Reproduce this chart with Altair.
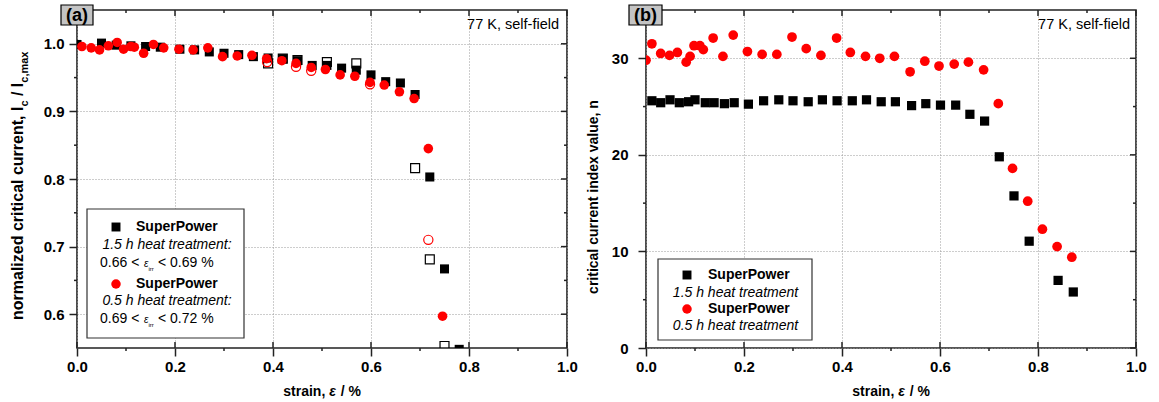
import altair as alt
import pandas as pd

FONT = "Liberation Sans"

# ---------------- Panel (a): normalized critical current ----------------
# 1.5 h heat treatment, loading (filled squares)
a_sq_strain = [0.0, 0.05, 0.08, 0.11, 0.14, 0.17, 0.21, 0.24, 0.27, 0.30, 0.33, 0.36, 0.39,
               0.42, 0.45, 0.48, 0.51, 0.54, 0.57, 0.60, 0.63, 0.66, 0.69, 0.72, 0.75, 0.78]
a_sq_ic = [0.999, 1.001, 0.998, 0.997, 0.996, 0.995, 0.992, 0.991, 0.988, 0.986, 0.984, 0.981, 0.979,
           0.978, 0.975, 0.968, 0.968, 0.964, 0.961, 0.954, 0.944, 0.942, 0.925, 0.803, 0.667, 0.548]
# 1.5 h heat treatment, open squares
a_sqo_strain = [0.39, 0.42, 0.45, 0.51, 0.57, 0.69, 0.72, 0.75]
a_sqo_ic = [0.971, 0.978, 0.976, 0.973, 0.971, 0.816, 0.681, 0.553]
# 0.5 h heat treatment, loading (filled circles)
a_ci_strain = [0.01, 0.029, 0.046, 0.064, 0.082, 0.095, 0.110, 0.117, 0.136, 0.156, 0.177, 0.208,
               0.237, 0.267, 0.297, 0.327, 0.357, 0.387, 0.418, 0.447, 0.478, 0.507, 0.537, 0.567,
               0.598, 0.627, 0.658, 0.688, 0.717, 0.746]
a_ci_ic = [0.996, 0.994, 0.991, 0.997, 1.002, 0.992, 0.996, 0.995, 0.986, 0.999, 0.994, 0.992,
           0.991, 0.994, 0.981, 0.982, 0.983, 0.978, 0.975, 0.971, 0.965, 0.962, 0.954, 0.952,
           0.943, 0.939, 0.929, 0.919, 0.845, 0.597]
# 0.5 h heat treatment, open circles
a_cio_strain = [0.388, 0.447, 0.478, 0.598, 0.717]
a_cio_ic = [0.973, 0.966, 0.960, 0.940, 0.710]

# ---------------- Panel (b): n-value ----------------
b_sq_strain = [0.012, 0.030, 0.049, 0.068, 0.087, 0.100, 0.121, 0.139, 0.160, 0.180, 0.209, 0.240,
               0.271, 0.300, 0.331, 0.360, 0.390, 0.421, 0.450, 0.480, 0.509, 0.542, 0.571, 0.601,
               0.632, 0.661, 0.691, 0.721, 0.751, 0.782, 0.841, 0.872]
b_sq_n = [25.6, 25.4, 25.7, 25.4, 25.5, 25.7, 25.4, 25.4, 25.3, 25.4, 25.25, 25.6,
          25.7, 25.6, 25.5, 25.7, 25.6, 25.6, 25.7, 25.5, 25.5, 25.1, 25.3, 25.15,
          25.15, 24.2, 23.5, 19.8, 15.75, 11.06, 7.0, 5.8]
b_ci_strain = [0.0, 0.012, 0.030, 0.048, 0.064, 0.082, 0.090, 0.098, 0.110, 0.117, 0.137, 0.157,
               0.178, 0.207, 0.237, 0.267, 0.298, 0.327, 0.357, 0.389, 0.417, 0.448, 0.477, 0.507,
               0.539, 0.569, 0.598, 0.629, 0.658, 0.689, 0.719, 0.748, 0.779, 0.809, 0.839, 0.869]
b_ci_n = [29.8, 31.5, 30.5, 30.3, 30.6, 29.6, 30.2, 31.3, 31.3, 30.9, 32.1, 30.2,
          32.4, 30.7, 30.4, 30.4, 32.2, 31.0, 30.3, 32.1, 30.6, 30.2, 30.0, 30.2,
          28.6, 29.7, 29.2, 29.4, 29.6, 28.8, 25.3, 18.6, 15.2, 12.3, 10.5, 9.4]

# ---------------- ticks ----------------
x_ticks = [0.0, 0.2, 0.4, 0.6, 0.8, 1.0]
x_minor = [0.1, 0.3, 0.5, 0.7, 0.9]
a_y_ticks = [0.6, 0.7, 0.8, 0.9, 1.0]
a_y_minor = [0.65, 0.75, 0.85, 0.95]
b_y_ticks = [0, 10, 20, 30]
b_y_minor = [5, 15, 25]

W, H = 490, 338
AX = "#222222"
ONE = pd.DataFrame({"o": [0]})


def axis(values, fmt, size, orient, pad=3):
    return alt.Axis(values=values, format=fmt, title=None, domain=False, grid=True,
                    gridColor="#9a9a9a", gridDash=[1, 2], gridWidth=1,
                    tickSize=8, tickColor=AX, tickWidth=1.5,
                    labelFont=FONT, labelFontWeight="bold", labelFontSize=size,
                    labelColor="black", labelPadding=pad, labelFlush=False, orient=orient)


def txt(text, x, y, size=14, weight="normal", style="normal", align="left",
        baseline="middle", angle=0):
    return alt.Chart(ONE).mark_text(
        text=text, font=FONT, fontSize=size, fontWeight=weight, fontStyle=style,
        align=align, baseline=baseline, angle=angle, color="black"
    ).encode(x=alt.value(x), y=alt.value(y))


def pts(xs_, ys_, xsc, ysc, xax, yax, shape, filled, color, size):
    df = pd.DataFrame({"x": xs_, "y": ys_})
    mk = alt.Chart(df).mark_point(shape=shape, filled=filled, color=color, size=size,
                                  opacity=1, strokeWidth=1.2, clip=True)
    return mk.encode(x=alt.X("x:Q", scale=xsc, axis=xax), y=alt.Y("y:Q", scale=ysc, axis=yax))


def tick_rules(xsc, ysc, xax, yax, xmaj, xmin, ymaj, ymin):
    layers = []
    r = dict(color=AX, strokeWidth=1.5)
    dx = pd.DataFrame({"x": xmaj})
    dxm = pd.DataFrame({"x": xmin})
    dy = pd.DataFrame({"y": ymaj})
    dym = pd.DataFrame({"y": ymin})
    X = lambda: alt.X("x:Q", scale=xsc, axis=xax)
    Y = lambda: alt.Y("y:Q", scale=ysc, axis=yax)
    # top (inward)
    layers.append(alt.Chart(dx).mark_rule(**r).encode(x=X(), y=alt.value(0), y2=alt.value(6)))
    layers.append(alt.Chart(dxm).mark_rule(**r).encode(x=X(), y=alt.value(0), y2=alt.value(3)))
    # bottom (inward major, outward minor)
    layers.append(alt.Chart(dx).mark_rule(**r).encode(x=X(), y=alt.value(H - 6), y2=alt.value(H)))
    layers.append(alt.Chart(dxm).mark_rule(**r).encode(x=X(), y=alt.value(H), y2=alt.value(H + 3)))
    # right (inward)
    layers.append(alt.Chart(dy).mark_rule(**r).encode(y=Y(), x=alt.value(W - 6), x2=alt.value(W)))
    layers.append(alt.Chart(dym).mark_rule(**r).encode(y=Y(), x=alt.value(W - 3), x2=alt.value(W)))
    # left (outward minor)
    layers.append(alt.Chart(dym).mark_rule(**r).encode(y=Y(), x=alt.value(-3), x2=alt.value(0)))
    return layers


def label_box(letter, x0, x1):
    box = alt.Chart(ONE).mark_rect(fill="#c4c4c4", stroke="black", strokeWidth=1.2).encode(
        x=alt.value(x0), x2=alt.value(x1), y=alt.value(-5), y2=alt.value(15))
    return [box, txt(letter, (x0 + x1) / 2, 5.5, size=18, weight="bold", align="center")]


def legend_box(x0, x1, y0, y1):
    return alt.Chart(ONE).mark_rect(fill="white", stroke="#333333", strokeWidth=1.2).encode(
        x=alt.value(x0), x2=alt.value(x1), y=alt.value(y0), y2=alt.value(y1))


def legend_sym(shape, color, x, y, size):
    return alt.Chart(ONE).mark_point(shape=shape, filled=True, color=color, size=size,
                                     opacity=1).encode(x=alt.value(x), y=alt.value(y))


def xtitle(cx, y):
    return [txt("strain,", cx + 3.3, y, size=14, weight="bold", align="right"),
            txt("ε", cx + 7.3, y, size=14, weight="bold", style="italic"),
            txt("/ %", cx + 18.8, y, size=14, weight="bold")]


# ---------------- build panel (a) ----------------
xs_a = alt.Scale(domain=[0, 1], nice=False, zero=False)
ys_a = alt.Scale(domain=[0.55, 1.05], nice=False, zero=False)
xax_a = axis(x_ticks, ".1f", 15, "bottom")
yax_a = axis(a_y_ticks, ".1f", 15, "left", pad=5)

layers_a = [
    pts(a_sqo_strain, a_sqo_ic, xs_a, ys_a, xax_a, yax_a, "square", False, "black", 80),
    pts(a_sq_strain, a_sq_ic, xs_a, ys_a, xax_a, yax_a, "square", True, "black", 82),
    pts(a_cio_strain, a_cio_ic, xs_a, ys_a, xax_a, yax_a, "circle", False, "#ff0000", 85),
    pts(a_ci_strain, a_ci_ic, xs_a, ys_a, xax_a, yax_a, "circle", True, "#ff0000", 92),
]
layers_a += tick_rules(xs_a, ys_a, xax_a, yax_a, x_ticks, x_minor, a_y_ticks, a_y_minor)
layers_a += label_box("(a)", -16, 16)
layers_a.append(txt("77 K, self-field", 482, 15, size=14.5, align="right"))
# y title with subscripts
layers_a += [
    txt("normalized critical current, I", -54, 310, size=16, weight="bold", align="left",
        baseline="alphabetic", angle=270),
    txt("c", -49, 96.6, size=11, weight="bold", align="left", baseline="alphabetic", angle=270),
    txt("/ I", -54, 86.1, size=16, weight="bold", align="left", baseline="alphabetic", angle=270),
    txt("c,max", -49, 72.7, size=11, weight="bold", align="left", baseline="alphabetic", angle=270),
]
layers_a += xtitle(245, 382)
# legend (a)
layers_a += [
    legend_box(10, 167, 199, 328),
    legend_sym("square", "black", 39, 217, 80),
    txt("SuperPower", 59, 217, size=14, weight="bold"),
    txt("1.5 h heat treatment:", 90, 235, size=14, style="italic", align="center"),
    txt("0.66 <", 23, 253, size=14),
    txt("ε", 67, 254, size=10, style="italic"),
    txt("irr", 71.5, 258.5, size=6),
    txt("< 0.69 %", 81, 253, size=14),
    legend_sym("circle", "#ff0000", 39, 274, 90),
    txt("SuperPower", 59, 274, size=14, weight="bold"),
    txt("0.5 h heat treatment:", 90, 291, size=14, style="italic", align="center"),
    txt("0.69 <", 23, 309, size=14),
    txt("ε", 67, 310, size=10, style="italic"),
    txt("irr", 71.5, 314.5, size=6),
    txt("< 0.72 %", 81, 309, size=14),
]
chart_a = alt.layer(*layers_a).properties(width=W, height=H)

# ---------------- build panel (b) ----------------
xs_b = alt.Scale(domain=[0, 1], nice=False, zero=False)
ys_b = alt.Scale(domain=[0, 35], nice=False, zero=False)
xax_b = axis(x_ticks, ".1f", 15, "bottom")
yax_b = axis(b_y_ticks, "d", 15, "left", pad=10)

layers_b = [
    pts(b_sq_strain, b_sq_n, xs_b, ys_b, xax_b, yax_b, "square", True, "black", 85),
    pts(b_ci_strain, b_ci_n, xs_b, ys_b, xax_b, yax_b, "circle", True, "#ff0000", 95),
]
layers_b += tick_rules(xs_b, ys_b, xax_b, yax_b, x_ticks, x_minor, b_y_ticks, b_y_minor)
layers_b += label_box("(b)", -17, 16)
layers_b.append(txt("77 K, self-field", 484, 15, size=14.5, align="right"))
layers_b.append(txt("critical current index value, n", -48, 187, size=14, weight="bold",
                    align="center", baseline="alphabetic", angle=270))
layers_b += xtitle(245, 382)
layers_b += [
    legend_box(12, 166, 249, 330),
    legend_sym("square", "black", 41, 265, 80),
    txt("SuperPower", 62, 265, size=14, weight="bold"),
    txt("1.5 h heat treatment", 89.5, 283, size=14, style="italic", align="center"),
    legend_sym("circle", "#ff0000", 41, 299, 90),
    txt("SuperPower", 62, 299, size=14, weight="bold"),
    txt("0.5 h heat treatment", 89.5, 316, size=14, style="italic", align="center"),
]
chart_b = alt.layer(*layers_b).properties(width=W, height=H)

chart = alt.hconcat(chart_a, chart_b, spacing=7).properties(
    padding={"left": 9, "top": 3, "right": 0, "bottom": 0},
    background="white",
).configure_view(stroke=AX, strokeWidth=1.6)

chart.save("out.html", embed_options={"renderer": "svg", "actions": False})
